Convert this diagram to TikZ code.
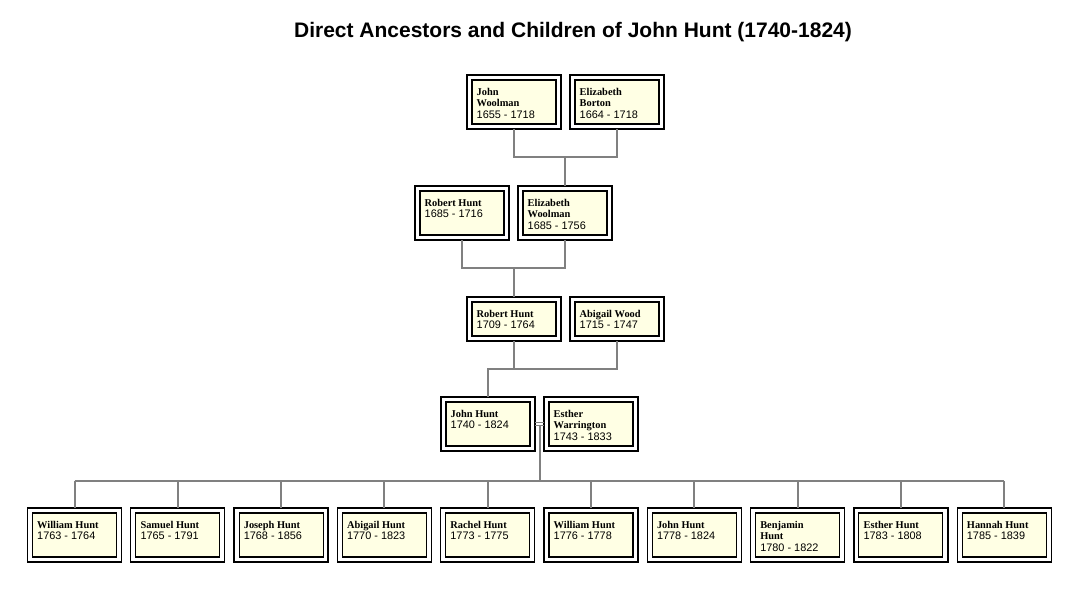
\documentclass[tikz,border=0pt]{standalone}
\usepackage{fontspec}
\setmainfont{Liberation Serif}
\setsansfont{Liberation Sans}
\usetikzlibrary{calc}
\definecolor{boxfill}{HTML}{FFFFE4}
\definecolor{linegray}{HTML}{808080}
\tikzset{
  outerbox/.style={draw=black, line width=1.3pt, fill=white, minimum width=94, inner sep=0pt, outer sep=0pt},
  innerbox/.style={draw=black, line width=1.1pt, fill=boxfill},
  nametext/.style={inner sep=0pt, align=left, font=\fontsize{10.4}{11.5}\selectfont\bfseries},
  conn/.style={draw=linegray, line width=2pt},
  marr/.style={draw=linegray, line width=1.2pt},
  titletext/.style={font=\fontsize{21}{24}\selectfont\sffamily\bfseries, inner sep=0pt}
}
\newcommand\famperson[5]{%
  \node[outerbox, minimum height=#4, anchor=north west] (#1) at (#2,#3) {};
  \draw[innerbox] ([shift={(5,5)}]#1.north west) rectangle ([shift={(-5,-5)}]#1.south east);
  \node[nametext, anchor=north west] (#1-t) at ([shift={(9.5,13)}]#1.north west) {#5};
}
\newcommand\dts[1]{{\mdseries\sffamily\fontsize{10.9}{11.5}\selectfont #1}}
\begin{document}
\begin{tikzpicture}[x=1pt, y=-1pt]
\fill[white] (0,0) rectangle (1081,592);
\useasboundingbox (0,0) rectangle (1081,592);
\node[titletext] (title) at (573,32.5) {Direct Ancestors and Children of John Hunt (1740-1824)};
% ancestors
\famperson{jw}{467}{75}{54}{John\\Woolman\\\dts{1655 - 1718}}
\famperson{eb}{570}{75}{54}{Elizabeth\\Borton\\\dts{1664 - 1718}}
\famperson{rha}{415}{186}{54}{Robert Hunt\\\dts{1685 - 1716}}
\famperson{ew}{518}{186}{54}{Elizabeth\\Woolman\\\dts{1685 - 1756}}
\famperson{rhb}{467}{297}{44}{Robert Hunt\\\dts{1709 - 1764}}
\famperson{aw}{570}{297}{44}{Abigail Wood\\\dts{1715 - 1747}}
\famperson{jh}{441}{397}{54}{John Hunt\\\dts{1740 - 1824}}
\famperson{esw}{544}{397}{54}{Esther\\Warrington\\\dts{1743 - 1833}}
% children
\famperson{c1}{27.5}{508}{54}{William Hunt\\\dts{1763 - 1764}}
\famperson{c2}{130.8}{508}{54}{Samuel Hunt\\\dts{1765 - 1791}}
\famperson{c3}{234.1}{508}{54}{Joseph Hunt\\\dts{1768 - 1856}}
\famperson{c4}{337.4}{508}{54}{Abigail Hunt\\\dts{1770 - 1823}}
\famperson{c5}{440.7}{508}{54}{Rachel Hunt\\\dts{1773 - 1775}}
\famperson{c6}{544}{508}{54}{William Hunt\\\dts{1776 - 1778}}
\famperson{c7}{647.3}{508}{54}{John Hunt\\\dts{1778 - 1824}}
\famperson{c8}{750.6}{508}{54}{Benjamin\\Hunt\\\dts{1780 - 1822}}
\famperson{c9}{853.9}{508}{54}{Esther Hunt\\\dts{1783 - 1808}}
\famperson{c10}{957.2}{508}{54}{Hannah Hunt\\\dts{1785 - 1839}}
% bar levels
\coordinate (b1) at (0,157);
\coordinate (b2) at (0,268);
\coordinate (b3) at (0,369);
\coordinate (b4) at (0,481);
% generation 1 -> 2
\draw[conn] (jw.south) -- (jw.south |- b1) -- (eb.south |- b1) -- (eb.south);
\draw[conn] (ew.north) -- (ew.north |- b1);
% generation 2 -> 3
\draw[conn] (rha.south) -- (rha.south |- b2) -- (ew.south |- b2) -- (ew.south);
\draw[conn] (rhb.north) -- (rhb.north |- b2);
% generation 3 -> 4
\draw[conn] (jh.north) -- (jh.north |- b3) -- (aw.south |- b3) -- (aw.south);
\draw[conn] (rhb.south) -- (rhb.south |- b3);
% marriage
\draw[marr] ($(jh.east)+(0,-1.3)$) -- ($(esw.west)+(0,-1.3)$);
\draw[marr] ($(jh.east)+(0,1.7)$) -- ($(esw.west)+(0,1.7)$);
\coordinate (mar) at ($(jh.east)!0.5!(esw.west)+(0,1.7)$);
\draw[conn] (mar) -- (mar |- b4);
% children bus
\draw[conn] (c1.north |- b4) -- (c10.north |- b4);
\foreach \c in {c1,c2,c3,c4,c5,c6,c7,c8,c9,c10}{
  \draw[conn] (\c.north) -- (\c.north |- b4);
}
\end{tikzpicture}
\end{document}
